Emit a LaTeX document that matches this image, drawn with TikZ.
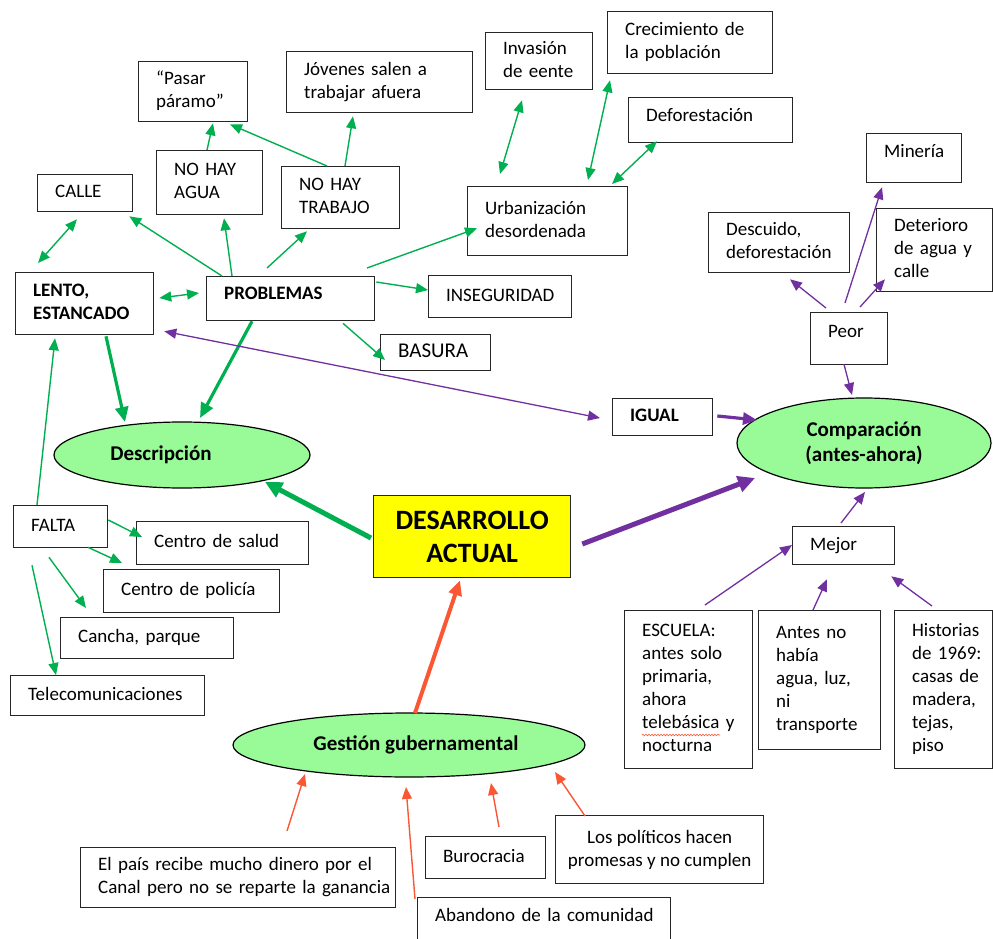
\documentclass[tikz,border=0pt]{standalone}
\usepackage{fontspec}
\setmainfont{Carlito}
\usetikzlibrary{arrows.meta,calc,shapes.geometric,decorations.pathmorphing}
\definecolor{grn}{RGB}{0,176,80}
\definecolor{prp}{RGB}{112,48,160}
\definecolor{rd}{RGB}{250,88,52}
\definecolor{elg}{RGB}{152,251,152}
\definecolor{ylw}{RGB}{255,255,0}
\newcommand{\bxt}[1]{\hspace*{17.5pt}\begin{tabular}{@{}l@{}}#1\end{tabular}}
\begin{document}
\begin{tikzpicture}[x=1pt,y=-1pt,
  box/.style={draw=black!85, line width=1.3pt, anchor=north west, inner sep=0pt, align=left, font=\fontsize{19}{23}\selectfont},
  bbox/.style={box, font=\fontsize{19}{23}\selectfont\bfseries},
  bx/.style 2 args={minimum width=#1pt, text width=#1pt, minimum height=#2pt},
  ell/.style={ellipse, draw=black, line width=1.2pt, fill=elg, inner sep=0pt, align=center, font=\fontsize{21}{25}\selectfont\bfseries},
  ga/.style={draw=grn, line width=1.4pt, -{Triangle[length=12pt,width=10pt]}},
  gab/.style={draw=grn, line width=1.4pt, {Triangle[length=12pt,width=10pt]}-{Triangle[length=12pt,width=10pt]}},
  gth/.style={draw=grn, line width=3.2pt, -{Triangle[length=15pt,width=13pt]}},
  gthk/.style={draw=grn, line width=5pt, -{Triangle[length=17pt,width=16pt]}},
  pa/.style={draw=prp, line width=1.3pt, -{Triangle[length=12pt,width=10pt]}},
  pab/.style={draw=prp, line width=1.3pt, {Triangle[length=12pt,width=10pt]}-{Triangle[length=12pt,width=10pt]}},
  pth/.style={draw=prp, line width=3.2pt, -{Triangle[length=14pt,width=12pt]}},
  pthk/.style={draw=prp, line width=5pt, -{Triangle[length=17pt,width=16pt]}},
  ra/.style={draw=rd, line width=1.4pt, -{Triangle[length=12pt,width=10pt]}},
  rth/.style={draw=rd, line width=4pt, -{Triangle[length=15pt,width=13pt]}}
]
\fill[white] (0,0) rectangle (993,939);
\useasboundingbox (0,0) rectangle (993,939);

% boxes
\node[box, bx={109}{60}] (pasar) at (138,61) {\bxt{“Pasar\\páramo”}};
\node[box, bx={186}{61}] (jovenes) at (286,51) {\bxt{Jóvenes salen a\\trabajar afuera}};
\node[box, bx={95}{37}] (calle) at (37,174) {\bxt{CALLE}};
\node[box, bx={106}{64}] (agua) at (156,150) {\bxt{NO HAY\\AGUA}};
\node[box, bx={118}{62}] (trabajo) at (281,166) {\bxt{NO HAY\\TRABAJO}};
\node[bbox, bx={138}{62}] (lento) at (15,272) {\bxt{LENTO,\\ESTANCADO}};
\node[bbox, bx={168}{44}, text depth=14pt] (prob) at (206,276) {\bxt{PROBLEMAS}};
\node[box, bx={143}{42}] (inseg) at (428,275) {\bxt{INSEGURIDAD}};
\node[box, bx={110}{36}, font=\fontsize{21}{24}\selectfont] (basura) at (380,334) {\bxt{BASURA}};
\node[box, bx={160}{69}] (urban) at (467,186) {\bxt{Urbanización\\desordenada}};
\node[box, bx={107}{57}] (invasion) at (485,32) {\bxt{Invasión\\de eente}};
\node[box, bx={165}{62}] (crec) at (607,11) {\bxt{Crecimiento de\\la población}};
\node[box, bx={164}{45}, text depth=14pt] (defor) at (628,97) {\bxt{Deforestación}};
\node[box, bx={95}{49}, text depth=18pt] (mineria) at (866,133) {\bxt{Minería}};
\node[box, bx={141}{60}] (descuido) at (708,212) {\bxt{Descuido,\\deforestación}};
\node[box, bx={116}{83}] (deterioro) at (876,208) {\bxt{Deterioro\\de agua y\\calle}};
\node[box, bx={77}{52}, text depth=18pt] (peor) at (810,312) {\bxt{Peor}};
\node[bbox, bx={100}{37}] (igual) at (612,398) {\bxt{IGUAL}};
\node[box, bx={102}{38}] (mejor) at (792,526) {\bxt{Mejor}};
\node[box, bx={128}{158}] (escuela) at (624,610) {\bxt{ESCUELA:\\antes solo\\primaria,\\ahora\\telebásica y\\nocturna}};
\node[box, bx={122}{139}] (antes) at (758,610) {\bxt{Antes no\\había\\agua, luz,\\ni\\transporte}};
\node[box, bx={98}{158}] (historias) at (894,610) {\bxt{Historias\\de 1969:\\casas de\\madera,\\tejas,\\piso}};
\node[box, bx={94}{42}] (falta) at (13,505) {\bxt{FALTA}};
\node[box, bx={172}{43}] (salud) at (136,521) {\bxt{Centro de salud}};
\node[box, bx={176}{43}] (policia) at (103,569) {\bxt{Centro de policía}};
\node[box, bx={173}{41}] (cancha) at (60,617) {\bxt{Cancha, parque}};
\node[box, bx={194}{40}] (telecom) at (10,675) {\bxt{Telecomunicaciones}};
\node[box, bx={315}{60}] (pais) at (80,847) {\bxt{El país recibe mucho dinero por el\\Canal pero no se reparte la ganancia}};
\node[box, bx={120}{42}] (burocracia) at (425,836) {\bxt{Burocracia}};
\node[box, minimum width=208pt, minimum height=68pt, align=center] (politicos) at (555,815) {Los políticos hacen\\promesas y no cumplen};
\node[box, bx={253}{50}, text depth=18pt] (abandono) at (417,897) {\bxt{Abandono de la comunidad}};

\node[draw=black!85, line width=1.3pt, fill=ylw, anchor=north west, minimum width=197pt, minimum height=82pt, inner sep=0pt, align=center, font=\fontsize{28}{33}\selectfont\bfseries] (desarrollo) at (373,495) {DESARROLLO\\ACTUAL};

% ellipses
\node[ell, minimum width=256pt, minimum height=66pt] (descr) at (182,455) {Descripción\hspace*{42pt}};
\node[ell, minimum width=254pt, minimum height=90pt] (comp) at (864,443) {Comparación\\(antes-ahora)};
\node[ell, minimum width=352pt, minimum height=64pt] (gestion) at (409,745) {\hspace*{14pt}Gestión gubernamental};

% spell-check underline
\draw[rd, line width=0.6pt, decorate, decoration={snake, amplitude=0.8pt, segment length=3pt}] ($(escuela.north west)+(18,125)$) -- ($(escuela.north west)+(96,125)$);

% green connectors
\draw[gab] ($(calle.south west)+(40,7)$) -- ($(lento.north west)+(23,-9)$);
\draw[ga] ($(prob.north west)+(16,0)$) -- ($(calle.south east)+(-4,4)$);
\draw[ga] ($(prob.north west)+(26,0)$) -- ($(agua.south west)+(68,3)$);
\draw[ga] ($(prob.north west)+(61,-8)$) -- ($(trabajo.south west)+(26,2)$);
\draw[ga] ($(prob.north west)+(161,-8)$) -- ($(urban.south west)+(10,-28)$);
\draw[gab] ($(lento.north east)+(5,26)$) -- ($(prob.north west)+(-7,17)$);
\draw[ga] ($(prob.north east)+(1,6)$) -- ($(inseg.north west)+(0,15)$);
\draw[ga] ($(prob.south west)+(137,2)$) -- ($(basura.north west)+(5,26)$);
\draw[ga] ($(agua.north west)+(51,0)$) -- ($(pasar.south west)+(75,1)$);
\draw[ga] ($(trabajo.north west)+(46,0)$) -- ($(pasar.south west)+(92,2)$);
\draw[ga] ($(trabajo.north west)+(64,0)$) -- ($(jovenes.south west)+(67,3)$);
\draw[gab] ($(urban.north west)+(33,-12)$) -- ($(invasion.south west)+(37,10)$);
\draw[gab] ($(urban.north west)+(121,-6)$) -- ($(crec.south west)+(3,6)$);
\draw[gab] ($(urban.north west)+(145,-2)$) -- ($(defor.south west)+(29,-2)$);

\draw[gth] ($(lento.south west)+(91,1)$) -- ($(descr.center)+(-57,-33)$);
\draw[gth] ($(prob.south west)+(46,0)$) -- ($(descr.center)+(18,-37)$);
\draw[gthk] ($(desarrollo.north west)+(-2,43)$) -- ($(descr.center)+(83,27)$);

\draw[ga] ($(falta.north west)+(24,0)$) -- ($(lento.south west)+(40,3)$);
\draw[ga] ($(falta.north east)+(0,15)$) -- ($(salud.north west)+(6,16)$);
\draw[ga] ($(falta.south west)+(75,-1)$) -- ($(policia.north west)+(19,-6)$);
\draw[ga] ($(falta.south west)+(36,9)$) -- ($(cancha.north west)+(26,-9)$);
\draw[ga] ($(falta.south west)+(19,17)$) -- ($(telecom.north west)+(46,0)$);

% purple connectors
\draw[pab] ($(lento.south east)+(10,-4)$) -- ($(igual.north west)+(-12,20)$);
\draw[pth] ($(igual.north east)+(4,18)$) -- ($(comp.center)+(-107,-23)$);
\draw[pthk] ($(desarrollo.north east)+(11,49)$) -- ($(comp.center)+(-109,35)$);
\draw[pa] ($(peor.south west)+(34,-1)$) -- ($(comp.center)+(-12,-48)$);
\draw[pa] ($(peor.north west)+(16,-4)$) -- ($(descuido.south west)+(82,6)$);
\draw[pa] ($(peor.north west)+(35,-9)$) -- ($(mineria.south west)+(16,4)$);
\draw[pa] ($(peor.north west)+(50,-5)$) -- ($(deterioro.south west)+(9,-13)$);
\draw[pa] ($(mejor.north west)+(49,-3)$) -- ($(comp.center)+(1,49)$);
\draw[pa] ($(escuela.north west)+(81,-5)$) -- ($(mejor.north west)+(0,19)$);
\draw[pa] ($(antes.north west)+(55,0)$) -- ($(mejor.south west)+(35,14)$);
\draw[pa] ($(historias.north west)+(38,-4)$) -- ($(mejor.south east)+(-4,11)$);

% red connectors
\draw[rth] ($(gestion.center)+(6,-32)$) -- ($(desarrollo.south west)+(87,2)$);
\draw[ra] ($(pais.north west)+(207,-16)$) -- ($(gestion.center)+(-104,29)$);
\draw[ra] ($(abandono.north west)+(-2,2)$) -- ($(gestion.center)+(-3,42)$);
\draw[ra] ($(burocracia.north west)+(74,-9)$) -- ($(gestion.center)+(82,38)$);
\draw[ra] ($(politicos.north west)+(30,1)$) -- ($(gestion.center)+(146,27)$);
\end{tikzpicture}
\end{document}
